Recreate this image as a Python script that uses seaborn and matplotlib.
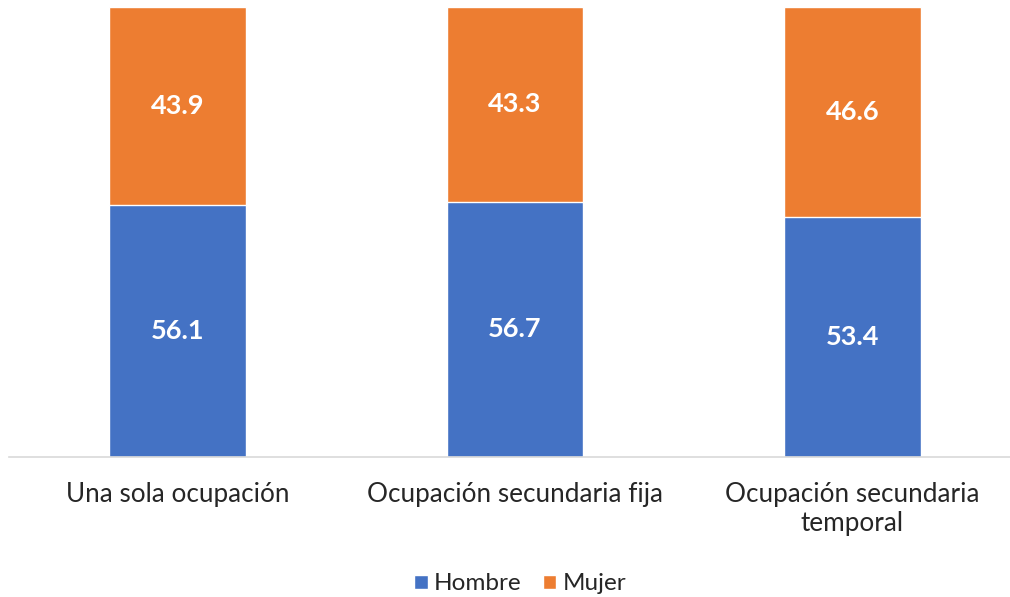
import matplotlib
matplotlib.use("Agg")
import matplotlib.pyplot as plt
import seaborn as sns
import pandas as pd
from matplotlib.patches import Patch

categories = ["Una sola ocupación", "Ocupación secundaria fija", "Ocupación secundaria\ntemporal"]
hombre = [56.1, 56.7, 53.4]
mujer = [43.9, 43.3, 46.6]

blue = "#4472C4"
orange = "#ED7D31"

sns.set_style("white")
plt.rcParams["font.family"] = ["Lato", "DejaVu Sans"]

df = pd.DataFrame({"cat": categories, "Hombre": hombre, "Mujer": mujer})
df["total"] = df["Hombre"] + df["Mujer"]

fig = plt.figure(figsize=(10.10, 5.97), dpi=100)
ax = fig.add_axes([9 / 1010, 1 - 457 / 597, 1012 / 1010, 450 / 597])

# stacked: draw total in orange then the Hombre part on top in blue
sns.barplot(data=df, x="cat", y="total", color=orange, saturation=1, width=0.405, ax=ax)
sns.barplot(data=df, x="cat", y="Hombre", color=blue, saturation=1, width=0.405, ax=ax)

for i, (h, m) in enumerate(zip(hombre, mujer)):
    ax.text(i, h / 2, f"{h:.1f}", ha="center", va="center", color="white",
            fontsize=19.5, fontweight="bold")
    ax.text(i, h + m / 2, f"{m:.1f}", ha="center", va="center", color="white",
            fontsize=19.5, fontweight="bold")

ax.set_ylim(0, 100)
ax.set_xlim(-0.5, 2.5)
ax.set_xlabel("")
ax.set_ylabel("")
ax.set_yticks([])
ax.tick_params(axis="x", length=0, pad=18, labelsize=18.8)
for s in ["top", "left", "right"]:
    ax.spines[s].set_visible(False)
ax.spines["bottom"].set_color("#D9D9D9")
ax.spines["bottom"].set_linewidth(1.2)

handles = [Patch(facecolor=blue, label="Hombre"), Patch(facecolor=orange, label="Mujer")]
fig.legend(handles=handles, loc="center", bbox_to_anchor=(0.515, 1 - 584 / 597), ncol=2,
           frameon=False, fontsize=17.5, handlelength=0.55, handleheight=0.55,
           handletextpad=0.25, columnspacing=0.9)

fig.savefig("out.png", dpi=100)
